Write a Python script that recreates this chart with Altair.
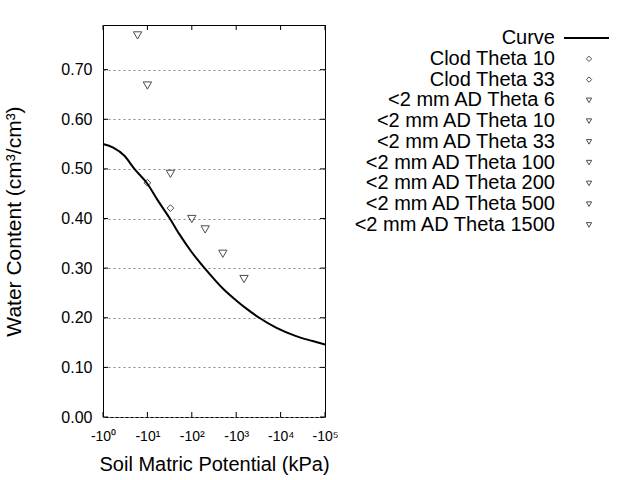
import altair as alt
import pandas as pd

FONT = "Liberation Sans"

# ---- data ----
curve_kpa = [1, 1.7, 3, 5.1, 10, 17, 31, 52, 100, 194, 297, 500, 1000, 1670, 3300, 7900,
             22300, 52700, 100000]
curve_theta = [0.55, 0.543, 0.527, 0.50, 0.47, 0.437, 0.402, 0.369, 0.332, 0.30, 0.281,
               0.259, 0.235, 0.219, 0.20, 0.18, 0.163, 0.153, 0.146]

clod_kpa = [10, 33]
clod_theta = [0.472, 0.421]

ad_kpa = [6, 10, 33, 100, 200, 500, 1500]
ad_theta = [0.769, 0.668, 0.49, 0.399, 0.378, 0.329, 0.278]

legend_labels = ["Curve", "Clod Theta 10", "Clod Theta 33",
                 "<2 mm AD Theta 6", "<2 mm AD Theta 10", "<2 mm AD Theta 33",
                 "<2 mm AD Theta 100", "<2 mm AD Theta 200", "<2 mm AD Theta 500",
                 "<2 mm AD Theta 1500"]
legend_kinds = ["line", "diamond", "diamond"] + ["triangle-down"] * 7

x_ticks = [1, 10, 100, 1000, 10000, 100000]
y_ticks = [0.0, 0.1, 0.2, 0.3, 0.4, 0.5, 0.6, 0.7]

W, H = 222, 392

curve_df = pd.DataFrame({"kpa": curve_kpa, "theta": curve_theta})
clod_df = pd.DataFrame({"kpa": clod_kpa, "theta": clod_theta})
ad_df = pd.DataFrame({"kpa": ad_kpa, "theta": ad_theta})
xt_df = pd.DataFrame({"v": x_ticks})
yt_df = pd.DataFrame({"v": y_ticks})
leg_df = pd.DataFrame({"label": legend_labels, "kind": legend_kinds})

xscale = alt.Scale(type="log", domain=[1, 100000], nice=False)
yscale = alt.Scale(domain=[0, 0.79], nice=False, zero=False)

xaxis = alt.Axis(values=x_ticks,
                 labelExpr="'-10' + ['\u2070','\u00b9','\u00b2','\u00b3','\u2074','\u2075'][round(log(datum.value)/LN10)]",
                 title="Soil Matric Potential (kPa)", grid=False, ticks=False, domain=False,
                 labelFont=FONT, labelFontSize=14, labelColor="black", labelPadding=12,
                 titleFont=FONT, titleFontSize=20, titleFontWeight="normal", titleColor="black",
                 titlePadding=11, labelFlush=False)
yaxis = alt.Axis(values=y_ticks, format=".2f",
                 title="Water Content (cm\u00b3/cm\u00b3)", grid=True, gridDash=[2, 3],
                 gridColor="#888888", gridWidth=1, ticks=False, domain=False,
                 labelFont=FONT, labelFontSize=16, labelColor="black", labelPadding=11,
                 titleFont=FONT, titleFontSize=21, titleFontWeight="normal", titleColor="black",
                 titlePadding=36)

curve = alt.Chart(curve_df).mark_line(color="black", strokeWidth=2,
                                      interpolate="monotone").encode(
    x=alt.X("kpa:Q", scale=xscale, axis=xaxis),
    y=alt.Y("theta:Q", scale=yscale, axis=yaxis),
)

clod = alt.Chart(clod_df).mark_point(shape="diamond", size=45, color="black",
                                     strokeWidth=1, filled=False).encode(
    x=alt.X("kpa:Q", scale=xscale), y=alt.Y("theta:Q", scale=yscale))

ad = alt.Chart(ad_df).mark_point(shape="triangle-down", size=70, color="black",
                                 strokeWidth=1, filled=False).encode(
    x=alt.X("kpa:Q", scale=xscale), y=alt.Y("theta:Q", scale=yscale))

xt_bot = alt.Chart(xt_df).mark_rule(color="black", strokeWidth=1).encode(
    x=alt.X("v:Q", scale=xscale), y=alt.value(H), y2=alt.value(H - 5))
xt_top = alt.Chart(xt_df).mark_rule(color="black", strokeWidth=1).encode(
    x=alt.X("v:Q", scale=xscale), y=alt.value(0), y2=alt.value(5))
yt_left = alt.Chart(yt_df).mark_rule(color="black", strokeWidth=1).encode(
    y=alt.Y("v:Q", scale=yscale), x=alt.value(0), x2=alt.value(5))
yt_right = alt.Chart(yt_df).mark_rule(color="black", strokeWidth=1).encode(
    y=alt.Y("v:Q", scale=yscale), x=alt.value(W), x2=alt.value(W - 5))

main = alt.layer(curve, clod, ad, xt_bot, xt_top, yt_left, yt_right).properties(
    width=W, height=H)

LH = 213
lscale = alt.Scale(type="point", padding=0.63)
ly = alt.Y("label:N", sort=legend_labels, scale=lscale, axis=None)

TX = 216
ltext = alt.Chart(leg_df).mark_text(align="right", baseline="middle", font=FONT,
                                    fontSize=20, color="black").encode(
    x=alt.value(TX), y=ly, text="label:N")
lline = alt.Chart(leg_df).transform_filter("datum.kind == 'line'").mark_rule(
    color="black", strokeWidth=2).encode(x=alt.value(TX + 9), x2=alt.value(TX + 54), y=ly)
lpts = alt.Chart(leg_df).transform_filter("datum.kind != 'line'").mark_point(
    color="black", strokeWidth=1, filled=False, size=28).encode(
    x=alt.value(TX + 34), y=ly,
    shape=alt.Shape("kind:N", scale=alt.Scale(domain=["diamond", "triangle-down"],
                                               range=["diamond", "triangle-down"]),
                    legend=None))

legend = alt.layer(ltext, lline, lpts).properties(
    width=280, height=LH, view=alt.ViewBackground(stroke=None))

chart = alt.hconcat(main, legend, spacing=0).properties(
    padding={"left": 3, "top": 24, "right": 0, "bottom": 0},
    background="white",
).configure_view(stroke="black", strokeWidth=1)

chart.save("out.html", embed_options={"renderer": "svg", "actions": False})
